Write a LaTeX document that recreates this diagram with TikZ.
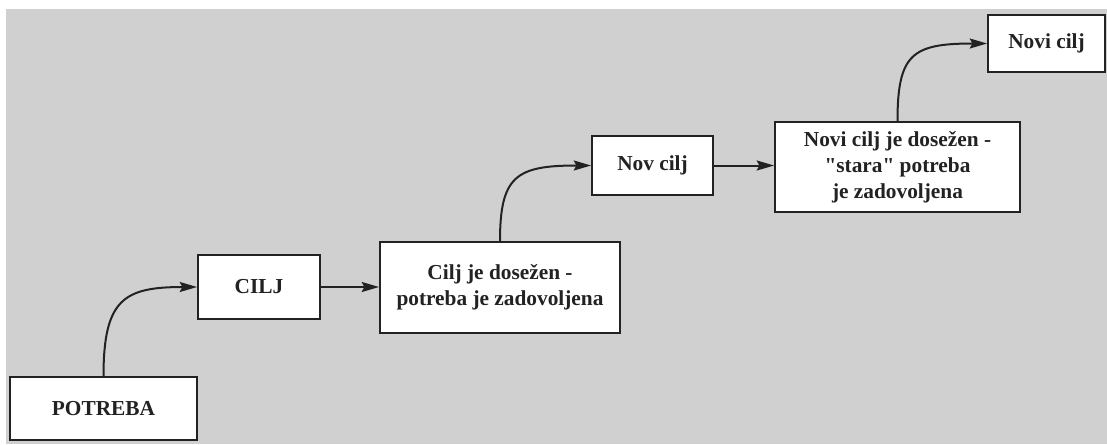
\documentclass[tikz,border=0pt]{standalone}
\usepackage{fontspec}
\setmainfont{Liberation Serif}
\usetikzlibrary{arrows.meta}
\definecolor{paper}{RGB}{208,208,208}
\definecolor{ink}{RGB}{34,34,34}
\newdimen\px \px=0.75pt
\begin{document}
\begin{tikzpicture}[x=\px,y=-\px,
  stepbox/.style={draw=ink, line width=1.4pt, fill=white, align=center,
    inner sep=0pt, text=ink, font=\fontsize{16}{19.5}\selectfont\bfseries},
  flow/.style={draw=ink, line width=1.5pt,
    -{Stealth[length=13pt,width=7.5pt,inset=2pt]}}]
  % paper background with a white strip along the top and left
  \useasboundingbox (0,0) rectangle (1107,444);
  \fill[white] (0,0) rectangle (1107,444);
  \fill[paper] (6,9) rectangle (1107,444);

  % boxes
  \node[stepbox, minimum width=187\px, minimum height=63\px] (potreba) at (103.5,408.5) {POTREBA};
  \node[stepbox, minimum width=122\px, minimum height=64\px] (cilj) at (259,287) {CILJ};
  \node[stepbox, minimum width=240\px, minimum height=91\px] (dosezen) at (500,287.5)
    {Cilj je dosežen -\\potreba je zadovoljena};
  \node[stepbox, minimum width=121\px, minimum height=59\px] (nov) at (652.5,165.5) {Nov cilj};
  \node[stepbox, minimum width=245\px, minimum height=90\px] (stara) at (897.5,167)
    {Novi cilj je dosežen -\\\textquotedbl stara\textquotedbl{} potreba\\je zadovoljena};
  \node[stepbox, minimum width=117\px, minimum height=57\px] (novi) at (1046.5,43.5) {Novi cilj};

  % connectors
  \draw[flow] (potreba.north) .. controls +(0,-77) and +(-73,0) .. (cilj.west);
  \draw[flow] (cilj.east) -- (cilj.east -| dosezen.west);
  \draw[flow] (dosezen.north) .. controls +(0,-65) and +(-75,0) .. (nov.west);
  \draw[flow] (nov.east) -- (nov.east -| stara.west);
  \draw[flow] (stara.north) .. controls +(0,-67) and +(-75,0) .. (novi.west);
\end{tikzpicture}
\end{document}
